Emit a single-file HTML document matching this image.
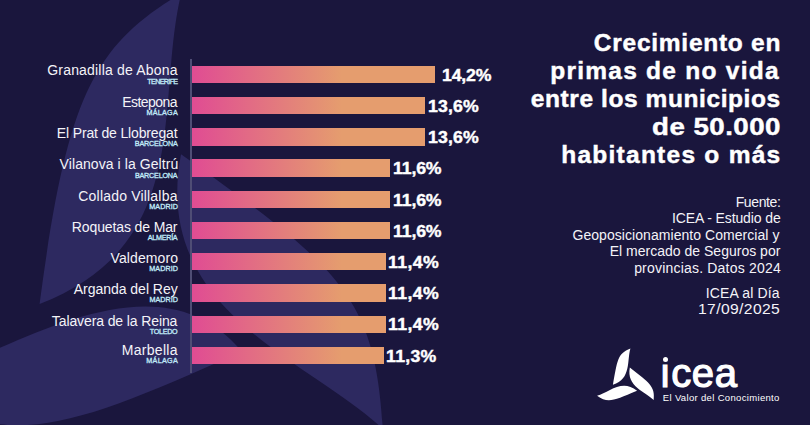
<!DOCTYPE html>
<html><head><meta charset="utf-8"><style>
html,body{margin:0;padding:0;}
body{width:810px;height:425px;overflow:hidden;background:#1a163d;position:relative;font-family:"Liberation Sans",sans-serif;}
svg{position:absolute;left:0;top:0;}
.t{position:absolute;white-space:pre;font-family:"Liberation Sans",sans-serif;}
.bar{position:absolute;left:191.6px;height:17.3px;background:linear-gradient(90deg,#e04c93 0px,#e59d6e 150px,#e59d6e 300px);}
.axis{position:absolute;left:190.3px;top:58.8px;width:1.3px;height:313.8px;background:#4f4d75;}
</style></head><body>
<svg width="810" height="425" viewBox="0 0 810 425"><g fill="#2d2960"><path d="M39.6 304.1C66.7 97.5 93.3 45.6 181.2 -6.6C154.7 103.2 195.4 243.4 39.6 304.1Z"/><path d="M181.0 154.3C342.6 269.4 374.8 297.0 382.8 428.8C305.8 358.0 151.3 310.8 181.0 154.3Z"/><path d="M241.8 351.5C68.8 429.2 3.4 453.9 -94.6 384.7C4.6 358.3 152.2 244.6 241.8 351.5Z"/></g>
<g fill="#ffffff" transform="translate(626.6 381.2) rotate(0.0) scale(0.11976047904191617) translate(-153.90 -269.56)"><path d="M39.56 300.01 C77.09 97.97 76.20 38.83 185.75 -3.48 C155.67 92.71 195.94 250.93 39.56 300.01Z"/><path d="M39.56 300.01 C77.09 97.97 76.20 38.83 185.75 -3.48 C155.67 92.71 195.94 250.93 39.56 300.01Z" transform="rotate(118.093 153.90 269.56)"/><path d="M39.56 300.01 C77.09 97.97 76.20 38.83 185.75 -3.48 C155.67 92.71 195.94 250.93 39.56 300.01Z" transform="rotate(237.172 153.90 269.56)"/></g></svg>

<div class="axis"></div>
<div style="position:absolute;left:662.6px;top:356.6px;width:5.5px;height:5.5px;border-radius:50%;background:#fff"></div>
<div class="bar" style="top:65.80px;width:243.60px"></div>
<div class="bar" style="top:97.02px;width:233.10px"></div>
<div class="bar" style="top:128.24px;width:233.10px"></div>
<div class="bar" style="top:159.46px;width:198.50px"></div>
<div class="bar" style="top:190.68px;width:198.50px"></div>
<div class="bar" style="top:221.90px;width:198.50px"></div>
<div class="bar" style="top:253.12px;width:194.40px"></div>
<div class="bar" style="top:284.34px;width:194.40px"></div>
<div class="bar" style="top:315.56px;width:194.40px"></div>
<div class="bar" style="top:346.78px;width:192.30px"></div>
<div class="t" style="left:47.26px;top:63.45px;font-size:14px;line-height:14px;font-weight:400;letter-spacing:0.186px;color:#f4f3f8;">Granadilla de Abona</div>
<div class="t" style="left:147.35px;top:77.61px;font-size:7.2px;line-height:7.2px;font-weight:400;letter-spacing:-0.675px;color:#c2ecfa;-webkit-text-stroke:0.3px #c2ecfa;">TENERIFE</div>
<div class="t" style="left:122.16px;top:94.97px;font-size:14px;line-height:14px;font-weight:400;letter-spacing:-0.550px;color:#f4f3f8;">Estepona</div>
<div class="t" style="left:146.58px;top:109.13px;font-size:7.2px;line-height:7.2px;font-weight:400;letter-spacing:0.230px;color:#c2ecfa;-webkit-text-stroke:0.3px #c2ecfa;">MÁLAGA</div>
<div class="t" style="left:56.87px;top:126.19px;font-size:14px;line-height:14px;font-weight:400;letter-spacing:-0.160px;color:#f4f3f8;">El Prat de Llobregat</div>
<div class="t" style="left:134.81px;top:140.35px;font-size:7.2px;line-height:7.2px;font-weight:400;letter-spacing:-0.175px;color:#c2ecfa;-webkit-text-stroke:0.3px #c2ecfa;">BARCELONA</div>
<div class="t" style="left:59.61px;top:157.41px;font-size:14px;line-height:14px;font-weight:400;letter-spacing:0.072px;color:#f4f3f8;">Vilanova i la Geltrú</div>
<div class="t" style="left:134.98px;top:171.57px;font-size:7.2px;line-height:7.2px;font-weight:400;letter-spacing:-0.216px;color:#c2ecfa;-webkit-text-stroke:0.3px #c2ecfa;">BARCELONA</div>
<div class="t" style="left:78.32px;top:188.63px;font-size:14px;line-height:14px;font-weight:400;letter-spacing:0.190px;color:#f4f3f8;">Collado Villalba</div>
<div class="t" style="left:149.36px;top:202.79px;font-size:7.2px;line-height:7.2px;font-weight:400;letter-spacing:0.028px;color:#c2ecfa;-webkit-text-stroke:0.3px #c2ecfa;">MADRID</div>
<div class="t" style="left:71.87px;top:219.85px;font-size:14px;line-height:14px;font-weight:400;letter-spacing:-0.125px;color:#f4f3f8;">Roquetas de Mar</div>
<div class="t" style="left:147.81px;top:234.01px;font-size:7.2px;line-height:7.2px;font-weight:400;letter-spacing:-0.285px;color:#c2ecfa;-webkit-text-stroke:0.3px #c2ecfa;">ALMERÍA</div>
<div class="t" style="left:110.60px;top:251.07px;font-size:14px;line-height:14px;font-weight:400;letter-spacing:0.087px;color:#f4f3f8;">Valdemoro</div>
<div class="t" style="left:149.36px;top:265.23px;font-size:7.2px;line-height:7.2px;font-weight:400;letter-spacing:0.028px;color:#c2ecfa;-webkit-text-stroke:0.3px #c2ecfa;">MADRID</div>
<div class="t" style="left:73.82px;top:282.29px;font-size:14px;line-height:14px;font-weight:400;letter-spacing:-0.033px;color:#f4f3f8;">Arganda del Rey</div>
<div class="t" style="left:149.41px;top:296.45px;font-size:7.2px;line-height:7.2px;font-weight:400;letter-spacing:0.018px;color:#c2ecfa;-webkit-text-stroke:0.3px #c2ecfa;">MADRID</div>
<div class="t" style="left:51.86px;top:313.51px;font-size:14px;line-height:14px;font-weight:400;letter-spacing:-0.110px;color:#f4f3f8;">Talavera de la Reina</div>
<div class="t" style="left:149.78px;top:327.67px;font-size:7.2px;line-height:7.2px;font-weight:400;letter-spacing:-0.304px;color:#c2ecfa;-webkit-text-stroke:0.3px #c2ecfa;">TOLEDO</div>
<div class="t" style="left:121.87px;top:342.53px;font-size:14px;line-height:14px;font-weight:400;letter-spacing:0.272px;color:#f4f3f8;">Marbella</div>
<div class="t" style="left:146.36px;top:356.69px;font-size:7.2px;line-height:7.2px;font-weight:400;letter-spacing:0.275px;color:#c2ecfa;-webkit-text-stroke:0.3px #c2ecfa;">MÁLAGA</div>
<div class="t" style="left:441.85px;top:67.63px;font-size:15.8px;line-height:15.8px;font-weight:700;letter-spacing:-0.173px;color:#ffffff;-webkit-text-stroke:0.4px #fff;transform-origin:0 0;transform:scaleX(1.12);">14,2%</div>
<div class="t" style="left:428.43px;top:98.85px;font-size:15.8px;line-height:15.8px;font-weight:700;letter-spacing:0.108px;color:#ffffff;-webkit-text-stroke:0.4px #fff;transform-origin:0 0;transform:scaleX(1.12);">13,6%</div>
<div class="t" style="left:428.43px;top:130.07px;font-size:15.8px;line-height:15.8px;font-weight:700;letter-spacing:0.108px;color:#ffffff;-webkit-text-stroke:0.4px #fff;transform-origin:0 0;transform:scaleX(1.12);">13,6%</div>
<div class="t" style="left:393.24px;top:161.29px;font-size:15.8px;line-height:15.8px;font-weight:700;letter-spacing:-0.131px;color:#ffffff;-webkit-text-stroke:0.4px #fff;transform-origin:0 0;transform:scaleX(1.12);">11,6%</div>
<div class="t" style="left:393.24px;top:192.51px;font-size:15.8px;line-height:15.8px;font-weight:700;letter-spacing:-0.131px;color:#ffffff;-webkit-text-stroke:0.4px #fff;transform-origin:0 0;transform:scaleX(1.12);">11,6%</div>
<div class="t" style="left:393.24px;top:223.73px;font-size:15.8px;line-height:15.8px;font-weight:700;letter-spacing:-0.131px;color:#ffffff;-webkit-text-stroke:0.4px #fff;transform-origin:0 0;transform:scaleX(1.12);">11,6%</div>
<div class="t" style="left:388.11px;top:254.95px;font-size:15.8px;line-height:15.8px;font-weight:700;letter-spacing:0.343px;color:#ffffff;-webkit-text-stroke:0.4px #fff;transform-origin:0 0;transform:scaleX(1.12);">11,4%</div>
<div class="t" style="left:388.11px;top:286.17px;font-size:15.8px;line-height:15.8px;font-weight:700;letter-spacing:0.343px;color:#ffffff;-webkit-text-stroke:0.4px #fff;transform-origin:0 0;transform:scaleX(1.12);">11,4%</div>
<div class="t" style="left:388.11px;top:317.39px;font-size:15.8px;line-height:15.8px;font-weight:700;letter-spacing:0.343px;color:#ffffff;-webkit-text-stroke:0.4px #fff;transform-origin:0 0;transform:scaleX(1.12);">11,4%</div>
<div class="t" style="left:385.78px;top:348.61px;font-size:15.8px;line-height:15.8px;font-weight:700;letter-spacing:0.249px;color:#ffffff;-webkit-text-stroke:0.4px #fff;transform-origin:0 0;transform:scaleX(1.12);">11,3%</div>
<div class="t" style="left:593.86px;top:31.06px;font-size:24.5px;line-height:24.5px;font-weight:700;letter-spacing:0.736px;color:#ffffff;-webkit-text-stroke:0.45px #fff;">Crecimiento en</div>
<div class="t" style="left:550.22px;top:59.06px;font-size:24.5px;line-height:24.5px;font-weight:700;letter-spacing:1.250px;color:#ffffff;-webkit-text-stroke:0.45px #fff;">primas de no vida</div>
<div class="t" style="left:530.87px;top:86.96px;font-size:24.5px;line-height:24.5px;font-weight:700;letter-spacing:0.581px;color:#ffffff;-webkit-text-stroke:0.45px #fff;">entre los municipios</div>
<div class="t" style="left:651.65px;top:114.86px;font-size:24.5px;line-height:24.5px;font-weight:700;letter-spacing:0.419px;color:#ffffff;-webkit-text-stroke:0.45px #fff;transform-origin:0 0;transform:scaleX(1.13);">de 50.000</div>
<div class="t" style="left:561.18px;top:142.86px;font-size:24.5px;line-height:24.5px;font-weight:700;letter-spacing:1.260px;color:#ffffff;-webkit-text-stroke:0.45px #fff;">habitantes o más</div>
<div class="t" style="left:735.65px;top:194.55px;font-size:14px;line-height:14px;font-weight:400;letter-spacing:-0.370px;color:#f4f3f8;">Fuente:</div>
<div class="t" style="left:672.01px;top:211.15px;font-size:14px;line-height:14px;font-weight:400;letter-spacing:-0.113px;color:#f4f3f8;">ICEA - Estudio de</div>
<div class="t" style="left:572.51px;top:227.85px;font-size:14px;line-height:14px;font-weight:400;letter-spacing:0.053px;color:#f4f3f8;">Geoposicionamiento Comercial y</div>
<div class="t" style="left:609.69px;top:243.65px;font-size:14px;line-height:14px;font-weight:400;letter-spacing:0.011px;color:#f4f3f8;">El mercado de Seguros por</div>
<div class="t" style="left:634.13px;top:260.65px;font-size:14px;line-height:14px;font-weight:400;letter-spacing:0.198px;color:#f4f3f8;">provincias. Datos 2024</div>
<div class="t" style="left:705.79px;top:286.05px;font-size:14px;line-height:14px;font-weight:400;letter-spacing:0.130px;color:#f4f3f8;">ICEA al Día</div>
<div class="t" style="left:698.25px;top:301.65px;font-size:14px;line-height:14px;font-weight:400;letter-spacing:0.332px;color:#f4f3f8;transform-origin:0 0;transform:scaleX(1.12);">17/09/2025</div>
<div class="t" style="left:659.49px;top:353.34px;font-size:40px;line-height:40px;font-weight:400;letter-spacing:0.604px;color:#ffffff;-webkit-text-stroke:1.2px #fff;">ıcea</div>
<div class="t" style="left:662.84px;top:392.96px;font-size:9.5px;line-height:9.5px;font-weight:400;letter-spacing:0.331px;color:#ffffff;">El Valor del Conocimiento</div>
</body></html>
